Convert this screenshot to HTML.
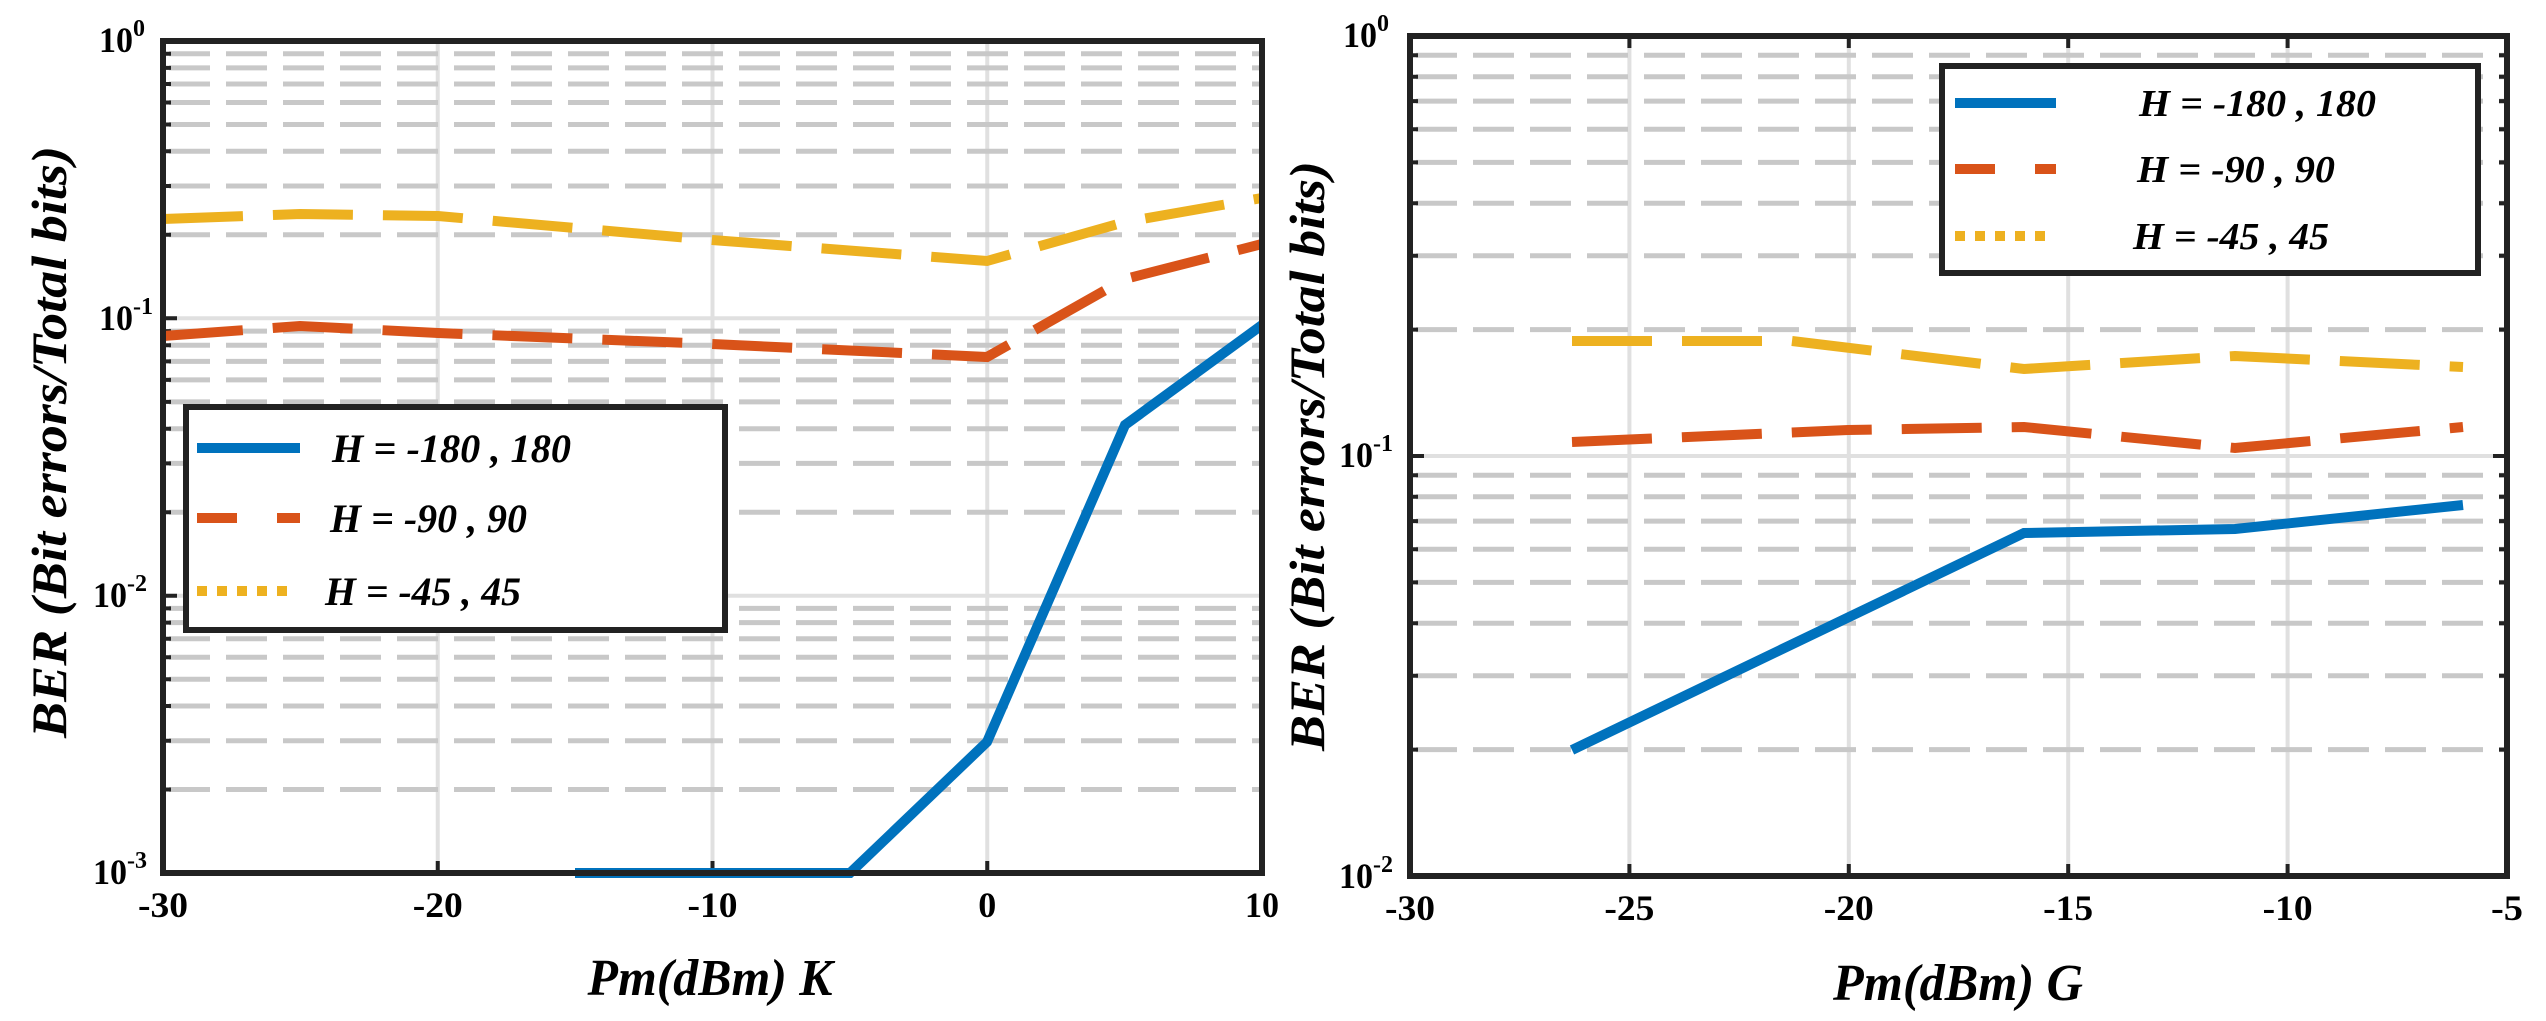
<!DOCTYPE html>
<html><head><meta charset="utf-8"><style>
html,body{margin:0;padding:0;background:#fff;}
svg{display:block;}
text{font-family:"Liberation Serif","Times New Roman",Times,serif;font-weight:bold;fill:#000;}
</style></head><body>
<svg width="2546" height="1021" viewBox="0 0 2546 1021" xmlns="http://www.w3.org/2000/svg" font-family="Liberation Serif, Times New Roman, serif">
<!-- LEFT PLOT -->
<g>
<g stroke="#e0e0e0" stroke-width="4">
<line x1="437.75" y1="41" x2="437.75" y2="873"/>
<line x1="712.5" y1="41" x2="712.5" y2="873"/>
<line x1="987.25" y1="41" x2="987.25" y2="873"/>
<line x1="163" y1="595.7" x2="1262" y2="595.7"/>
<line x1="163" y1="318.3" x2="1262" y2="318.3"/>
</g>
<g stroke="#c8c8c8" stroke-width="5" stroke-dasharray="41 16" stroke-dashoffset="-6">
<path d="M163 789.5H1262M163 740.7H1262M163 706H1262M163 679.2H1262M163 657.2H1262M163 638.7H1262M163 622.6H1262M163 608.4H1262
M163 512.2H1262M163 463.4H1262M163 428.7H1262M163 401.9H1262M163 379.9H1262M163 361.4H1262M163 345.3H1262M163 331.1H1262
M163 234.8H1262M163 186H1262M163 151.3H1262M163 124.5H1262M163 102.5H1262M163 84H1262M163 67.9H1262M163 53.7H1262"/>
</g>
<g stroke="#222" stroke-width="4">
<path d="M163 789.5h8M163 740.7h8M163 706h8M163 679.2h8M163 657.2h8M163 638.7h8M163 622.6h8M163 608.4h8M163 595.7h14
M163 512.2h8M163 463.4h8M163 428.7h8M163 401.9h8M163 379.9h8M163 361.4h8M163 345.3h8M163 331.1h8M163 318.3h14
M163 234.8h8M163 186h8M163 151.3h8M163 124.5h8M163 102.5h8M163 84h8M163 67.9h8M163 53.7h8
M437.75 873v-12M712.5 873v-12M987.25 873v-12"/>
</g>
<polyline points="163,219 300,214 438,216 712,240 987,261 1125,222 1262,198" fill="none" stroke="#EDB120" stroke-width="10" stroke-dasharray="80 30"/>
<polyline points="163,336 300,326 438,333 712,344 987,357 1125,279 1262,244" fill="none" stroke="#D95319" stroke-width="10" stroke-dasharray="80 30"/>
<polyline points="575,873 850,873 987,742 1125,425 1262,325" fill="none" stroke="#0072BD" stroke-width="10"/>
<rect x="163" y="41" width="1099" height="832" fill="none" stroke="#222" stroke-width="6"/>
<rect x="186" y="407" width="539" height="223" fill="#fff" stroke="#222" stroke-width="6"/>
<line x1="197" y1="448" x2="300" y2="448" stroke="#0072BD" stroke-width="10"/>
<line x1="197" y1="518" x2="300" y2="518" stroke="#D95319" stroke-width="10" stroke-dasharray="40 40"/>
<line x1="197" y1="591" x2="290" y2="591" stroke="#EDB120" stroke-width="10" stroke-dasharray="10 10"/>
<g font-size="40" font-style="italic" lengthAdjust="spacingAndGlyphs">
<text x="332" y="462" textLength="239" lengthAdjust="spacingAndGlyphs">H = -180 , 180</text>
<text x="330" y="532" textLength="197" lengthAdjust="spacingAndGlyphs">H = -90 , 90</text>
<text x="325" y="605" textLength="196" lengthAdjust="spacingAndGlyphs">H = -45 , 45</text>
</g>
<g font-size="36">
<text x="99" y="52"><tspan textLength="34" lengthAdjust="spacingAndGlyphs">10</tspan><tspan font-size="24" dy="-16">0</tspan></text>
<text x="99" y="330"><tspan textLength="34" lengthAdjust="spacingAndGlyphs">10</tspan><tspan font-size="24" dy="-16">-1</tspan></text>
<text x="93" y="607"><tspan textLength="34" lengthAdjust="spacingAndGlyphs">10</tspan><tspan font-size="24" dy="-16">-2</tspan></text>
<text x="93" y="884"><tspan textLength="34" lengthAdjust="spacingAndGlyphs">10</tspan><tspan font-size="24" dy="-16">-3</tspan></text>
</g>
<g font-size="36" text-anchor="middle">
<text x="163" y="917" textLength="50" lengthAdjust="spacingAndGlyphs">-30</text>
<text x="437.75" y="917" textLength="50" lengthAdjust="spacingAndGlyphs">-20</text>
<text x="712.5" y="917" textLength="50" lengthAdjust="spacingAndGlyphs">-10</text>
<text x="987.25" y="917">0</text>
<text x="1262" y="917" textLength="34" lengthAdjust="spacingAndGlyphs">10</text>
</g>
<text x="710" y="995" font-size="52" font-style="italic" text-anchor="middle" textLength="245" lengthAdjust="spacingAndGlyphs">Pm(dBm) K</text>
<text transform="translate(66,442) rotate(-90)" font-size="50" font-style="italic" text-anchor="middle" textLength="592" lengthAdjust="spacingAndGlyphs">BER (Bit errors/Total bits)</text>
</g>

<!-- RIGHT PLOT -->
<g>
<g stroke="#e0e0e0" stroke-width="4">
<line x1="1629.4" y1="36" x2="1629.4" y2="876"/>
<line x1="1848.8" y1="36" x2="1848.8" y2="876"/>
<line x1="2068.2" y1="36" x2="2068.2" y2="876"/>
<line x1="2287.6" y1="36" x2="2287.6" y2="876"/>
<line x1="1410" y1="456" x2="2507" y2="456"/>
</g>
<g stroke="#c8c8c8" stroke-width="5" stroke-dasharray="41 16" stroke-dashoffset="-6">
<path d="M1410 749.6H2507M1410 675.7H2507M1410 623.2H2507M1410 582.4H2507M1410 549.2H2507M1410 521.1H2507M1410 496.7H2507M1410 475.3H2507
M1410 329.6H2507M1410 255.7H2507M1410 203.2H2507M1410 162.4H2507M1410 129.2H2507M1410 101.1H2507M1410 76.7H2507M1410 55.3H2507"/>
</g>
<g stroke="#222" stroke-width="4">
<path d="M1410 749.6h8M1410 675.7h8M1410 623.2h8M1410 582.4h8M1410 549.2h8M1410 521.1h8M1410 496.7h8M1410 475.3h8M1410 456h14
M1410 329.6h8M1410 255.7h8M1410 203.2h8M1410 162.4h8M1410 129.2h8M1410 101.1h8M1410 76.7h8M1410 55.3h8
M2507 749.6h-8M2507 675.7h-8M2507 623.2h-8M2507 582.4h-8M2507 549.2h-8M2507 521.1h-8M2507 496.7h-8M2507 475.3h-8M2507 456h-14
M2507 329.6h-8M2507 255.7h-8M2507 203.2h-8M2507 162.4h-8M2507 129.2h-8M2507 101.1h-8M2507 76.7h-8M2507 55.3h-8
M1629.4 876v-12M1848.8 876v-12M2068.2 876v-12M2287.6 876v-12M1629.4 36v12M1848.8 36v12M2068.2 36v12M2287.6 36v12"/>
</g>
<polyline points="1572,341 1792,341 2024,369 2235,356 2463,367" fill="none" stroke="#EDB120" stroke-width="10" stroke-dasharray="80 30"/>
<polyline points="1572,442 1848,430 2024,427 2235,448 2463,427" fill="none" stroke="#D95319" stroke-width="10" stroke-dasharray="80 30"/>
<polyline points="1572,750 2024,533 2235,529 2463,505" fill="none" stroke="#0072BD" stroke-width="10"/>
<rect x="1410" y="36" width="1097" height="840" fill="none" stroke="#222" stroke-width="6"/>
<rect x="1942" y="66" width="536" height="207" fill="#fff" stroke="#222" stroke-width="6"/>
<line x1="1955" y1="103" x2="2056" y2="103" stroke="#0072BD" stroke-width="10"/>
<line x1="1955" y1="169" x2="2056" y2="169" stroke="#D95319" stroke-width="10" stroke-dasharray="40 40"/>
<line x1="1955" y1="236" x2="2046" y2="236" stroke="#EDB120" stroke-width="10" stroke-dasharray="10 10"/>
<g font-size="38" font-style="italic">
<text x="2139" y="116" textLength="237" lengthAdjust="spacingAndGlyphs">H = -180 , 180</text>
<text x="2137" y="182" textLength="198" lengthAdjust="spacingAndGlyphs">H = -90 , 90</text>
<text x="2133" y="249" textLength="196" lengthAdjust="spacingAndGlyphs">H = -45 , 45</text>
</g>
<g font-size="36">
<text x="1343" y="47"><tspan textLength="34" lengthAdjust="spacingAndGlyphs">10</tspan><tspan font-size="24" dy="-16">0</tspan></text>
<text x="1339" y="467"><tspan textLength="34" lengthAdjust="spacingAndGlyphs">10</tspan><tspan font-size="24" dy="-16">-1</tspan></text>
<text x="1339" y="888"><tspan textLength="34" lengthAdjust="spacingAndGlyphs">10</tspan><tspan font-size="24" dy="-16">-2</tspan></text>
</g>
<g font-size="36" text-anchor="middle">
<text x="1410" y="920" textLength="50" lengthAdjust="spacingAndGlyphs">-30</text>
<text x="1629.4" y="920" textLength="50" lengthAdjust="spacingAndGlyphs">-25</text>
<text x="1848.8" y="920" textLength="50" lengthAdjust="spacingAndGlyphs">-20</text>
<text x="2068.2" y="920" textLength="50" lengthAdjust="spacingAndGlyphs">-15</text>
<text x="2287.6" y="920" textLength="50" lengthAdjust="spacingAndGlyphs">-10</text>
<text x="2507" y="920" textLength="32" lengthAdjust="spacingAndGlyphs">-5</text>
</g>
<text x="1958" y="1000" font-size="52" font-style="italic" text-anchor="middle" textLength="250" lengthAdjust="spacingAndGlyphs">Pm(dBm) G</text>
<text transform="translate(1324,456) rotate(-90)" font-size="50" font-style="italic" text-anchor="middle" textLength="590" lengthAdjust="spacingAndGlyphs">BER (Bit errors/Total bits)</text>
</g>
</svg>
</body></html>
